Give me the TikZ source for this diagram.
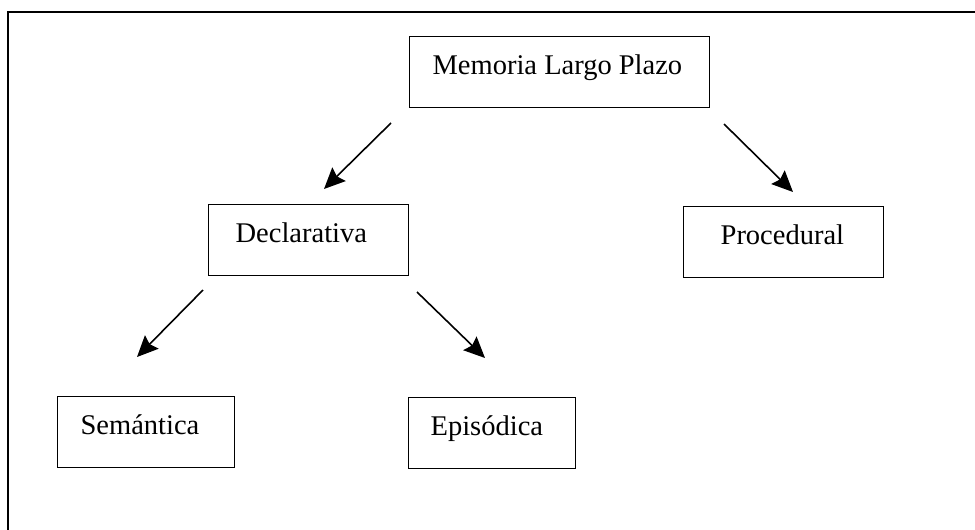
\documentclass[tikz,border=0pt]{standalone}
\usepackage{fontspec}
\setmainfont{Liberation Serif}
\usetikzlibrary{arrows.meta}
\newcommand{\lbox}[2]{\makebox[#1pt][l]{#2}}
\tikzset{
  boxnode/.style={draw, line width=1.3pt, anchor=north west, inner ysep=0pt,
    text height=38pt, text depth=33pt, font=\fontsize{28.5}{32}\selectfont},
  arr/.style={line width=1.6pt, -{Stealth[length=21pt,width=19pt,inset=3pt]}},
  frame/.style={line width=1.4pt}
}
\begin{document}
\begin{tikzpicture}[x=1pt,y=-1pt]
\useasboundingbox (0,0) rectangle (975,530);
\draw[frame] (8,530) -- (8,12) -- (975,12);
% boxes: inner xsep = left padding, box width = W + 2*pad
\node[boxnode, inner xsep=23pt] (mem) at (409,36) {\lbox{254}{Memoria Largo Plazo}};
\node[boxnode, inner xsep=27pt] (dec) at (208,204) {\lbox{146}{Declarativa}};
\node[boxnode, inner xsep=37pt] (pro) at (683,206) {\lbox{126}{Procedural}};
\node[boxnode, inner xsep=23pt] (sem) at (57,396) {\lbox{131}{Semántica}};
\node[boxnode, inner xsep=22pt] (epi) at (408,397) {\lbox{123}{Episódica}};
% arrow end points (free-floating arrows)
\coordinate (m1) at (391,123);
\coordinate (d1) at (324,189);
\coordinate (m2) at (724,124);
\coordinate (p1) at (793,192);
\coordinate (d2) at (203,290);
\coordinate (s1) at (137,357);
\coordinate (d3) at (417,292);
\coordinate (e1) at (485,358);
\draw[arr] (m1) -- (d1);
\draw[arr] (m2) -- (p1);
\draw[arr] (d2) -- (s1);
\draw[arr] (d3) -- (e1);
\end{tikzpicture}
\end{document}
